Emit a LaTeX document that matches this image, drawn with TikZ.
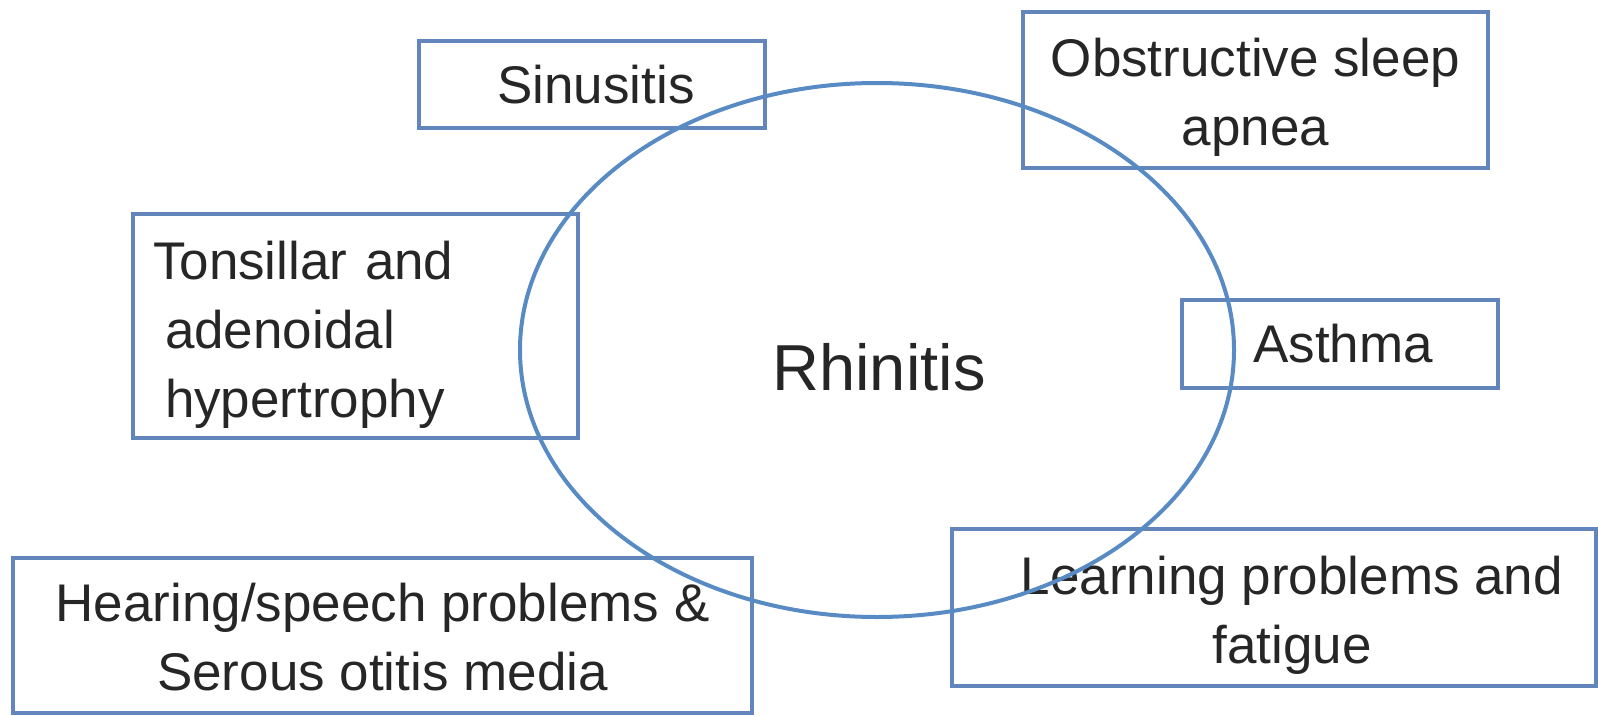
\documentclass[tikz,border=0pt]{standalone}
\usepackage{fontspec}
\setmainfont{Liberation Sans}
\usetikzlibrary{shapes.geometric}
\definecolor{boxblue}{RGB}{98,134,188}
\definecolor{ringblue}{RGB}{88,138,196}
\definecolor{textgray}{RGB}{38,38,38}

\begin{document}
\begin{tikzpicture}[x=1pt, y=-1pt,
	box/.style = { draw=boxblue, line width=4pt, rectangle, inner sep=0pt,
		text=textgray, align=center, font=\fontsize{53}{69}\selectfont},
	ring/.style = { draw=ringblue, line width=4pt, ellipse, inner sep=0pt}]
	
	% Page frame
	\useasboundingbox (0,0) rectangle (1598,715);
	
	% Surrounding conditions
	\node[box, minimum width=346pt, minimum height=87pt] (sinusitis) at (592,84.5) {\hspace*{8pt}Sinusitis};
	\node[box, minimum width=465pt, minimum height=156pt] (apnea) at (1255.5,90) {\rule{0pt}{52pt}Obstructive sleep\\apnea};
	\node[box, minimum width=445pt, minimum height=224pt, text width=405pt, align=left] (tonsil) at (355.5,326)
		{\rule{0pt}{55pt}Tonsillar and\\ \hspace*{12pt}adenoidal\\ \hspace*{12pt}hypertrophy};
	\node[box, minimum width=316pt, minimum height=88pt] (asthma) at (1340,344) {\hspace*{6pt}Asthma};
	\node[box, minimum width=739pt, minimum height=155pt] (hearing) at (382.5,635.5) {\rule{0pt}{42pt}Hearing/speech problems \&\\Serous otitis media};
	\node[box, minimum width=644pt, minimum height=157pt] (learning) at (1274,607.5) {\rule{0pt}{53pt}\hspace*{36pt}Learning problems and\\\hspace*{36pt}fatigue};
	
	% Central ring
	\node[ring, minimum width=714pt, minimum height=534pt] (ring) at (877,350) {};
	\node[text=textgray, font=\fontsize{65}{78}\selectfont] (rhinitis) at (879,367) {Rhinitis};
	
\end{tikzpicture}
\end{document}
